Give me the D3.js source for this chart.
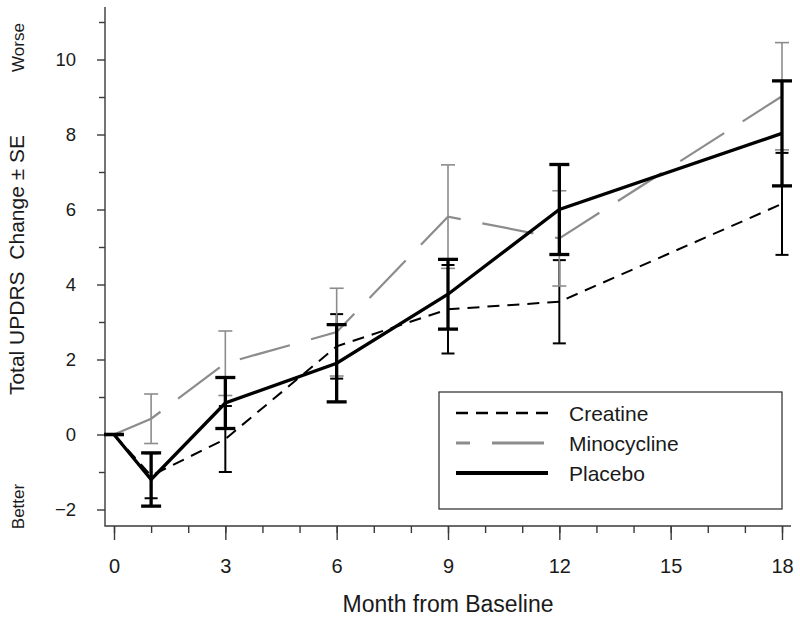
<!DOCTYPE html>
<html>
<head>
<meta charset="utf-8">
<script src="https://cdn.jsdelivr.net/npm/d3@7"></script>
<style>
  body { margin: 0; background: #fff; }
  text { font-family: "Liberation Sans", Arial, sans-serif; fill: #1a1a1a; }
</style>
</head>
<body>
<svg id="chart" width="800" height="618"></svg>
<script>
"use strict";

// values
const months = [0, 1, 3, 6, 9, 12, 18];
const creatineMean = [0, -1.1, -0.12, 2.35, 3.34, 3.54, 6.15];
const creatineSE = [0, 0.6, 0.88, 0.86, 1.18, 1.11, 1.36];
const minoMean = [0, 0.42, 1.9, 2.73, 5.81, 5.23, 9.02];
const minoSE = [0, 0.66, 0.86, 1.17, 1.38, 1.27, 1.43];
const placeboMean = [0, -1.2, 0.84, 1.9, 3.74, 6.0, 8.03];
const placeboSE = [0, 0.71, 0.68, 1.03, 0.93, 1.2, 1.4];
const seriesNames = ["Creatine", "Minocycline", "Placebo"];
const xMajor = [0, 3, 6, 9, 12, 15, 18];
const yMajor = [-2, 0, 2, 4, 6, 8, 10];

const svg = d3.select("#chart");

const x = d3.scaleLinear().domain([0, 18]).range([114, 782]);
const y = d3.scaleLinear().domain([0, 10]).range([434.5, 59.5]);

// plot frame, L-shaped like R's bty="l"
const frameL = 105, frameB = 526, frameT = 7, frameR = 791;
svg.append("path")
  .attr("d", `M${frameL},${frameT}V${frameB}H${frameR}`)
  .attr("fill", "none").attr("stroke", "#3a3a3a").attr("stroke-width", 1.4);

// x axis
const xAxisG = svg.append("g").attr("transform", `translate(0,${frameB})`);
xAxisG.append("g").call(d3.axisBottom(x).tickValues(d3.range(0, 19)).tickSize(7).tickFormat(""));
xAxisG.append("g").call(d3.axisBottom(x).tickValues(xMajor).tickSize(14).tickPadding(19));
xAxisG.selectAll(".domain").remove();
xAxisG.selectAll("line").attr("stroke", "#3a3a3a").attr("stroke-width", 1.4);
xAxisG.selectAll("text").attr("font-size", 20).style("fill", "#1a1a1a")
  .attr("font-family", "Liberation Sans, Arial, sans-serif");

// y axis
const yAxisG = svg.append("g").attr("transform", `translate(${frameL},0)`);
yAxisG.append("g").call(d3.axisLeft(y).tickValues(d3.range(-1, 12, 2)).tickSize(6).tickFormat(""));
yAxisG.append("g").call(d3.axisLeft(y).tickValues(yMajor).tickSize(8).tickPadding(21)
  .tickFormat(d => d < 0 ? "\u2212" + Math.abs(d) : d));
yAxisG.selectAll(".domain").remove();
yAxisG.selectAll("line").attr("stroke", "#3a3a3a").attr("stroke-width", 1.4);
yAxisG.selectAll("text").attr("font-size", 18.5).style("fill", "#1a1a1a")
  .attr("font-family", "Liberation Sans, Arial, sans-serif");

// axis titles
svg.append("text").attr("x", 448).attr("y", 612).attr("text-anchor", "middle")
  .attr("font-size", 23).text("Month from Baseline");
svg.append("text").attr("transform", "translate(24,265) rotate(-90)")
  .attr("text-anchor", "middle").attr("font-size", 21)
  .attr("xml:space", "preserve").text("Total UPDRS  Change \u00b1 SE");
svg.append("text").attr("transform", "translate(24,47.5) rotate(-90)")
  .attr("text-anchor", "middle").attr("font-size", 17).text("Worse");
svg.append("text").attr("transform", "translate(24,506.5) rotate(-90)")
  .attr("text-anchor", "middle").attr("font-size", 17).text("Better");

// series styles
const series = [
  { name: seriesNames[0], mean: creatineMean, se: creatineSE,
    line: { color: "#000", width: 2, dash: "12,8" },
    bar: { color: "#000", width: 2, cap: 13 } },
  { name: seriesNames[1], mean: minoMean, se: minoSE,
    line: { color: "#8c8c8c", width: 2.2, dash: "52,22" },
    bar: { color: "#8c8c8c", width: 1.6, cap: 14 } },
  { name: seriesNames[2], mean: placeboMean, se: placeboSE,
    line: { color: "#000", width: 3.3, dash: null },
    bar: { color: "#000", width: 3.3, cap: 20 } }
];

const lineFcn = d3.line().x(d => x(d.m)).y(d => y(d.v));

series.forEach(s => {
  const pts = months.map((m, i) => ({ m: m, v: s.mean[i], se: s.se[i] }));
  const g = svg.append("g");

  g.append("path")
    .attr("d", lineFcn(pts))
    .attr("fill", "none")
    .attr("stroke", s.line.color)
    .attr("stroke-width", s.line.width)
    .attr("stroke-dasharray", s.line.dash);

  const bars = g.selectAll(".bar").data(pts).join("g")
    .attr("stroke", s.bar.color).attr("stroke-width", s.bar.width);
  bars.append("line")
    .attr("x1", d => x(d.m)).attr("x2", d => x(d.m))
    .attr("y1", d => y(d.v - d.se)).attr("y2", d => y(d.v + d.se));
  [-1, 1].forEach(sign => {
    bars.append("line")
      .attr("x1", d => x(d.m) - s.bar.cap / 2).attr("x2", d => x(d.m) + s.bar.cap / 2)
      .attr("y1", d => y(d.v + sign * d.se)).attr("y2", d => y(d.v + sign * d.se));
  });
});

// legend
const lg = svg.append("g");
lg.append("rect").attr("x", 439).attr("y", 392).attr("width", 343).attr("height", 117)
  .attr("fill", "#fff").attr("stroke", "#3a3a3a").attr("stroke-width", 1.3);
series.forEach((s, i) => {
  const ly = 413 + i * 30;
  lg.append("line").attr("x1", 456).attr("x2", 548).attr("y1", ly).attr("y2", ly)
    .attr("stroke", s.line.color).attr("stroke-width", s.line.width + 0.6)
    .attr("stroke-dasharray", s.line.dash)
    .attr("stroke-dashoffset", i === 1 ? 38 : 0);
  lg.append("text").attr("x", 569).attr("y", ly + 7.5).attr("font-size", 21).text(s.name);
});
</script>
</body>
</html>
